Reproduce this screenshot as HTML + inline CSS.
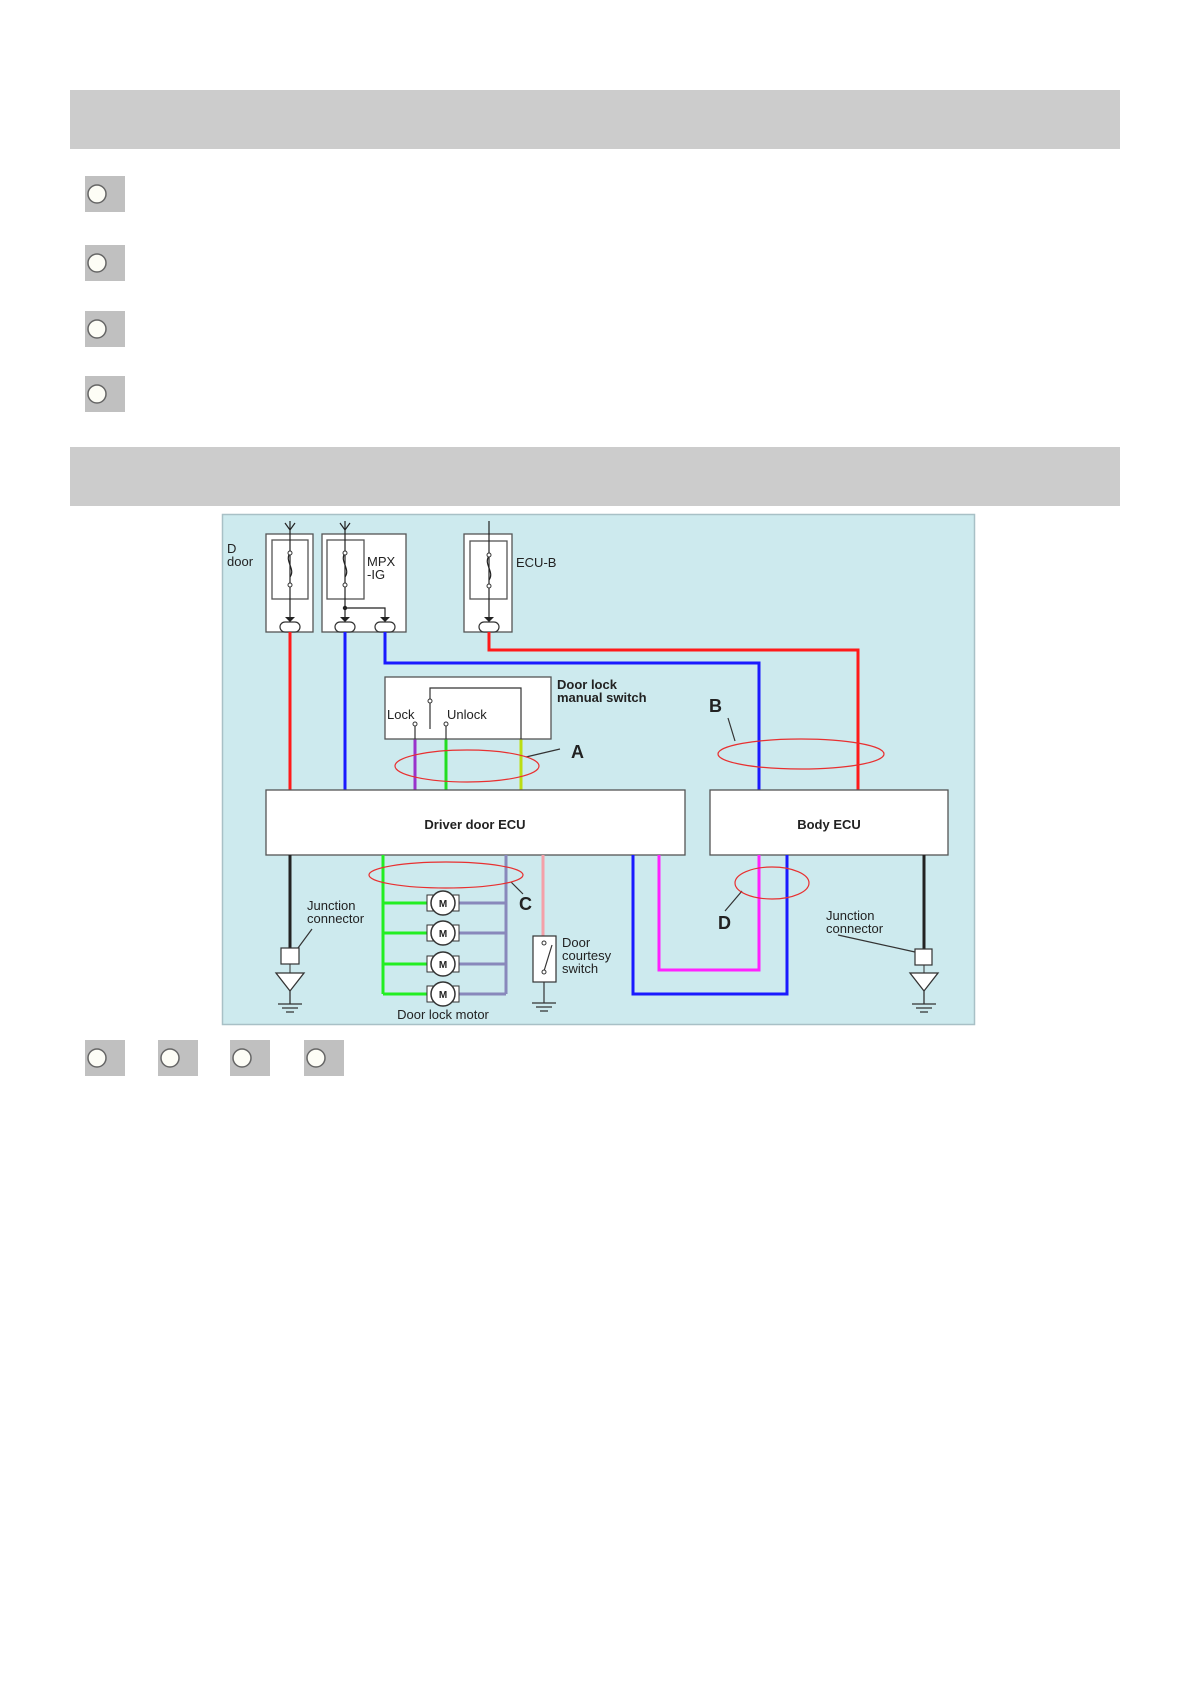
<!DOCTYPE html>
<html><head><meta charset="utf-8"><style>
html,body{margin:0;padding:0;background:#fff;width:1191px;height:1683px;overflow:hidden}
svg{display:block}
text{font-family:"Liberation Sans",sans-serif;fill:#222}
</style></head><body>
<svg width="1191" height="1683" viewBox="0 0 1191 1683" xmlns="http://www.w3.org/2000/svg">
<defs>
<g id="rb"><rect x="0" y="0" width="40" height="36" fill="#c0c0c0"/><circle cx="12" cy="18" r="9" fill="#fdfdf6" stroke="#666" stroke-width="1.5"/></g>
<g id="motor"><rect x="-16" y="-8" width="6" height="16" fill="#fff" stroke="#333"/><rect x="10" y="-8" width="6" height="16" fill="#fff" stroke="#333"/><circle r="12" fill="#fff" stroke="#333" stroke-width="1.5"/><text x="0" y="4" font-size="10" font-weight="bold" text-anchor="middle">M</text></g>
<g id="gnd"><path d="M-14 0 H14 L0 18 Z" fill="#fff" stroke="#333" stroke-width="1.3"/><path d="M0 18 V31 M-12 31 H12 M-8 35 H8 M-4 39 H4" stroke="#333" stroke-width="1.3"/></g>
</defs>
<rect x="70" y="90" width="1050" height="59" fill="#cccccc"/>
<rect x="70" y="447" width="1050" height="59" fill="#cccccc"/>
<use href="#rb" x="85" y="176"/><use href="#rb" x="85" y="245"/><use href="#rb" x="85" y="311"/><use href="#rb" x="85" y="376"/>
<use href="#rb" x="85" y="1040"/><use href="#rb" x="158" y="1040"/><use href="#rb" x="230" y="1040"/><use href="#rb" x="304" y="1040"/>

<rect x="222.5" y="514.5" width="752" height="510" fill="#cdeaee" stroke="#a8c0c6" stroke-width="1.5"/>
<g stroke="#555" stroke-width="1.3" fill="#fff">
<rect x="266" y="534" width="47" height="98"/><rect x="272" y="540" width="36" height="59"/>
<rect x="322" y="534" width="84" height="98"/><rect x="327" y="540" width="37" height="59"/>
<rect x="464" y="534" width="48" height="98"/><rect x="470" y="541" width="37" height="58"/>
</g>
<g stroke="#222" stroke-width="1.2" fill="none">
<path d="M290 521 V620 M345 521 V620 M345 608 H385 V620 M489 521 V620"/>
<path d="M285 523 L290 530 L295 523 M340 523 L345 530 L350 523"/>
<path d="M290 553 c-6 8 6 16 0 24 M345 553 c-6 8 6 16 0 24 M489 556 c-6 8 6 16 0 24"/>
</g>
<g fill="#fff" stroke="#333" stroke-width="1"><circle cx="290" cy="553" r="2"/><circle cx="290" cy="585" r="2"/><circle cx="345" cy="553" r="2"/><circle cx="345" cy="585" r="2"/><circle cx="489" cy="555" r="2"/><circle cx="489" cy="586" r="2"/></g>
<circle cx="345" cy="608" r="2.2" fill="#222"/>
<g fill="#fff" stroke="#333" stroke-width="1.2">
<rect x="280" y="622" width="20" height="10" rx="5"/><rect x="335" y="622" width="20" height="10" rx="5"/><rect x="375" y="622" width="20" height="10" rx="5"/><rect x="479" y="622" width="20" height="10" rx="5"/></g>
<g fill="#222"><path d="M285 617 h10 l-5 5z M340 617 h10 l-5 5z M380 617 h10 l-5 5z M484 617 h10 l-5 5z"/></g>
<text x="227" y="553" font-size="13">D</text><text x="227" y="566" font-size="13">door</text>
<text x="367" y="566" font-size="13">MPX</text><text x="367" y="579" font-size="13">-IG</text>
<text x="516" y="567" font-size="13">ECU-B</text>

<g fill="none" stroke-width="3">
<path d="M290 632 V790" stroke="#ff1a1a"/>
<path d="M345 632 V790" stroke="#1a1aff"/>
<path d="M385 632 V663 H759 V790" stroke="#1a1aff"/>
<path d="M489 632 V650 H858 V790" stroke="#ff1a1a"/>
<path d="M415 739 V790" stroke="#9933cc"/>
<path d="M446 739 V790" stroke="#22dd22"/>
<path d="M521 739 V790" stroke="#bbdd11"/>
</g>
<rect x="385" y="677" width="166" height="62" fill="#fff" stroke="#555" stroke-width="1.3"/>
<g stroke="#333" stroke-width="1.2" fill="none"><path d="M415 725 V739 M446 725 V739 M521 739 V688 H430 V700 M430 702 V729"/></g>
<g fill="#fff" stroke="#333"><circle cx="415" cy="724" r="2"/><circle cx="446" cy="724" r="2"/><circle cx="430" cy="701" r="2"/></g>
<text x="387" y="719" font-size="13">Lock</text><text x="447" y="719" font-size="13">Unlock</text>
<text x="557" y="689" font-size="13" font-weight="bold">Door lock</text><text x="557" y="702" font-size="13" font-weight="bold">manual switch</text>

<rect x="266" y="790" width="419" height="65" fill="#fff" stroke="#555" stroke-width="1.3"/>
<rect x="710" y="790" width="238" height="65" fill="#fff" stroke="#555" stroke-width="1.3"/>
<text x="475" y="829" font-size="13" font-weight="bold" text-anchor="middle">Driver door ECU</text>
<text x="829" y="829" font-size="13" font-weight="bold" text-anchor="middle">Body ECU</text>

<g fill="none" stroke-width="3">
<path d="M290 855 V948" stroke="#222"/>
<path d="M924 855 V949" stroke="#222"/>
<path d="M383 855 V994 M383 903 H430 M383 933 H430 M383 964 H430 M383 994 H430" stroke="#22ee22"/>
<path d="M506 855 V994 M456 903 H506 M456 933 H506 M456 964 H506 M456 994 H506" stroke="#8888bb"/>
<path d="M543 855 V937" stroke="#f4a0a8"/>
<path d="M633 855 V994 H787 V855" stroke="#1a1aff"/>
<path d="M659 855 V970 H759 V855" stroke="#ff22ff"/>
</g>
<use href="#motor" x="443" y="903"/><use href="#motor" x="443" y="933"/><use href="#motor" x="443" y="964"/><use href="#motor" x="443" y="994"/>
<rect x="281" y="948" width="18" height="16" fill="#fff" stroke="#333" stroke-width="1.2"/>
<path d="M290 964 V973" stroke="#333"/>
<use href="#gnd" x="290" y="973"/>
<rect x="915" y="949" width="17" height="16" fill="#fff" stroke="#333" stroke-width="1.2"/>
<path d="M924 965 V973" stroke="#333"/>
<use href="#gnd" x="924" y="973"/>
<rect x="533" y="936" width="23" height="46" fill="#fff" stroke="#333" stroke-width="1.2"/>
<g stroke="#333" stroke-width="1.2" fill="none"><path d="M544 943 M544 971 L552 945 M544 982 V1003 M532 1003 H556 M536 1007 H552 M540 1011 H548"/></g>
<g fill="#fff" stroke="#333"><circle cx="544" cy="943" r="2"/><circle cx="544" cy="972" r="2"/></g>
<path d="M298 948 L312 929 M838 935 L915 952 M511 882 L523 894 M526 757 L560 749 M728 718 L735 741 M725 911 L742 891" stroke="#333" stroke-width="1.2" fill="none"/>
<text x="307" y="910" font-size="13">Junction</text><text x="307" y="923" font-size="13">connector</text>
<text x="826" y="920" font-size="13">Junction</text><text x="826" y="933" font-size="13">connector</text>
<text x="562" y="947" font-size="13">Door</text><text x="562" y="960" font-size="13">courtesy</text><text x="562" y="973" font-size="13">switch</text>
<text x="443" y="1019" font-size="13" text-anchor="middle">Door lock motor</text>
<g font-size="18" font-weight="bold"><text x="571" y="758">A</text><text x="709" y="712">B</text><text x="519" y="910">C</text><text x="718" y="929">D</text></g>
<g fill="none" stroke="#e83030" stroke-width="1.2">
<ellipse cx="467" cy="766" rx="72" ry="16"/>
<ellipse cx="801" cy="754" rx="83" ry="15"/>
<ellipse cx="446" cy="875" rx="77" ry="13"/>
<ellipse cx="772" cy="883" rx="37" ry="16"/>
</g>
</svg>
</body></html>
